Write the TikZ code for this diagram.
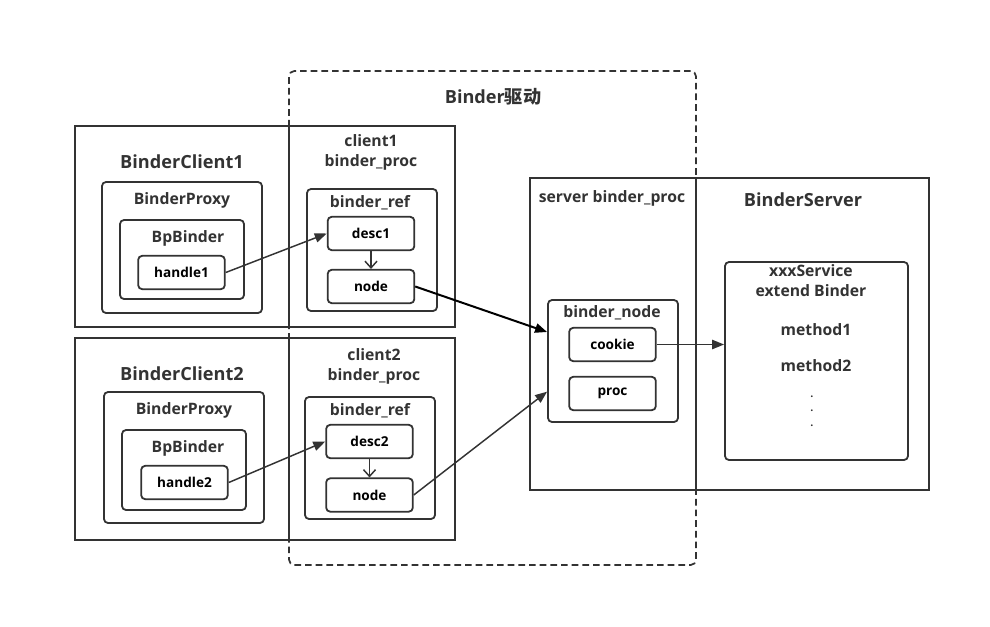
\documentclass[tikz,border=0pt]{standalone}
\usepackage{fontspec}
\setmainfont{Open Sans}
\newfontfamily\cjk{Noto Sans CJK SC}
\usetikzlibrary{arrows.meta,fit}
\definecolor{ink}{HTML}{333333}

\begin{document}
\begin{tikzpicture}[x=0.75pt,y=-0.75pt,
  outer/.style={draw=ink, line width=1.5pt, inner sep=0pt},
  group/.style={draw=ink, line width=1.35pt, rounded corners=3pt, inner sep=0pt},
  drv/.style={draw=ink, line width=1.3pt, dash pattern=on 5pt off 3pt, rounded corners=4pt, inner sep=0pt},
  leaf/.style={draw=ink, line width=1.35pt, rounded corners=3pt, minimum width=65pt, minimum height=25pt, inner sep=0pt, text=black, font=\bfseries\fontsize{10.2}{12}\selectfont},
  title/.style={text=ink, font=\bfseries\fontsize{13.6}{16}\selectfont},
  head/.style={text=ink, align=center, font=\bfseries\fontsize{11.8}{15}\selectfont},
  link/.style={draw=ink, line width=1.1pt, -{Triangle[length=9pt,width=7pt]}},
  down/.style={draw=ink, line width=1.1pt, -{Straight Barb[length=5pt,width=9pt]}}]
\useasboundingbox (0,0) rectangle (990,626);

% Binder driver
\node[drv, fit={(289,71) (696,565)}] (drv) {};
\node[title] (drvT) at (493,97) {Binder{\cjk 驱动}};

% client 1
\node[outer, fit={(75,126) (289,327)}] (c1) {};
\node[outer, fit={(289,126) (455,327)}] (p1) {};
\node[title] (c1T) at (182,162) {BinderClient1};
\node[group, fit={(102,182) (262,313)}] (bp1) {};
\node[head] (bp1T) at (182,200) {BinderProxy};
\node[group, fit={(120,220) (244,299)}] (bb1) {};
\node[head] (bb1T) at (188,238) {BpBinder};
\node[leaf] (h1) at (181.5,272.5) {handle1};
\node[head] (p1T) at (371,152) {client1\\binder\_proc};
\node[group, fit={(307,189) (437,311)}] (r1) {};
\node[head] (r1T) at (370,203) {binder\_ref};
\node[leaf] (d1) at (371,233.5) {desc1};
\node[leaf] (n1) at (371,286.5) {node};

% client 2
\node[outer, fit={(75,338) (289,540)}] (c2) {};
\node[outer, fit={(289,338) (455,540)}] (p2) {};
\node[title] (c2T) at (182,374) {BinderClient2};
\node[group, fit={(104,392) (264,523)}] (bp2) {};
\node[head] (bp2T) at (184,410) {BinderProxy};
\node[group, fit={(122,430) (246,510)}] (bb2) {};
\node[head] (bb2T) at (188,448) {BpBinder};
\node[leaf] (h2) at (184.5,482.5) {handle2};
\node[head] (p2T) at (374,366) {client2\\binder\_proc};
\node[group, fit={(305,397) (435,519)}] (r2) {};
\node[head] (r2T) at (370,411) {binder\_ref};
\node[leaf] (d2) at (369.5,441.5) {desc2};
\node[leaf] (n2) at (369.5,495) {node};

% server
\node[outer, fit={(530,178) (696,490)}] (sp) {};
\node[outer, fit={(696,178) (929,490)}] (sv) {};
\node[head] (spT) at (612,198) {server binder\_proc};
\node[title] (svT) at (803,200) {BinderServer};
\node[group, fit={(548,300) (678,422)}] (bn) {};
\node[head] (bnT) at (612,313) {binder\_node};
\node[leaf] (ck) at (612.5,344.5) {cookie};
\node[leaf] (pr) at (612.5,393.5) {proc};
\node[group, fit={(725,262) (908,460)}] (svc) {};
\node[head] (svcT) at (811,281) {xxxService\\extend Binder};
\node[head] (m1) at (816,330) {method1};
\node[head] (m2) at (816,366) {method2};
\node[head, font=\bfseries\fontsize{8}{10.9}\selectfont] (dots) at (812,411) {.\\.\\.};

% links
\draw[link] (h1.east) -- (d1.west);
\draw[down] (d1) -- (n1);
\draw[link, draw=black, line width=1.5pt] (n1.east) -- ([yshift=21.75pt]bn.west);
\draw[link] (h2.east) -- (d2.west);
\draw[down] (d2) -- (n2);
\draw[link] (n2.east) -- ([yshift=-23pt]bn.west);
\draw[link] (ck.east) -- (ck.east -| svc.west);
\end{tikzpicture}
\end{document}
